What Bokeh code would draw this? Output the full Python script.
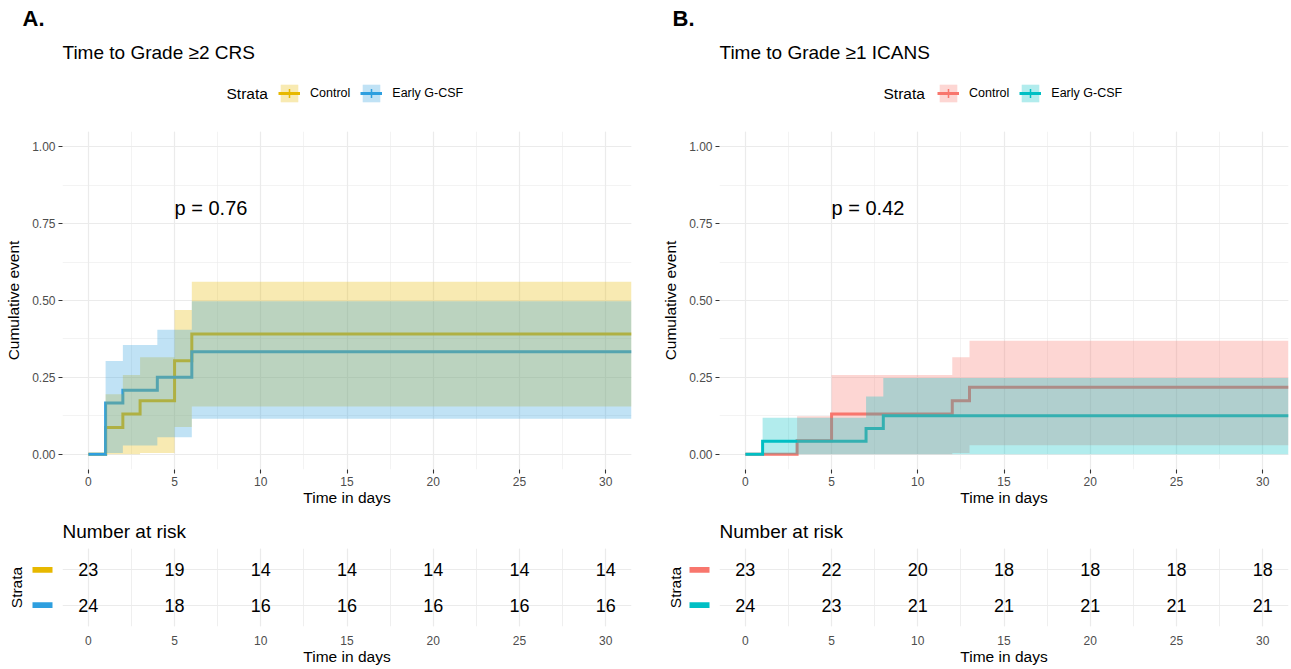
from bokeh.plotting import figure
from bokeh.models import (ColumnDataSource, Label, Legend, LegendItem,
                          SingleIntervalTicker, FixedTicker, NumeralTickFormatter)
from bokeh.layouts import row, column
from bokeh.core.properties import value
from bokeh.embed import file_html
from bokeh.resources import INLINE

FONT = "Liberation Sans"

# ---------------- data ----------------
strata = ["Control", "Early G-CSF"]
strata_rows = [2, 1]

# Panel A: Time to Grade >=2 CRS (cumulative event, 95% CI)
a_title = "Time to Grade ≥2 CRS"
a_pval = "p = 0.76"
a_colors = ["#E7B800", "#2E9FDF"]
a_ctrl_time = [0, 1, 2, 3, 5, 6, 31.5]
a_ctrl_est = [0, 0.0870, 0.1304, 0.1739, 0.3043, 0.3913, 0.3913]
a_ctrl_lower = [0, 0.0, 0.0, 0.0035, 0.0884, 0.1553, 0.1553]
a_ctrl_upper = [0, 0.1951, 0.2577, 0.3152, 0.4691, 0.5614, 0.5614]
a_early_time = [0, 1, 2, 4, 6, 31.5]
a_early_est = [0, 0.1667, 0.2083, 0.2500, 0.3333, 0.3333]
a_early_lower = [0, 0.0034, 0.0280, 0.0551, 0.1153, 0.1153]
a_early_upper = [0, 0.3032, 0.3552, 0.4047, 0.4976, 0.4976]

# Panel B: Time to Grade >=1 ICANS
b_title = "Time to Grade ≥1 ICANS"
b_pval = "p = 0.42"
b_colors = ["#F8766D", "#00BFC4"]
b_ctrl_time = [0, 3, 5, 12, 13, 31.5]
b_ctrl_est = [0, 0.0435, 0.1304, 0.1739, 0.2174, 0.2174]
b_ctrl_lower = [0, 0.0, 0.0, 0.0035, 0.0293, 0.0293]
b_ctrl_upper = [0, 0.1233, 0.2577, 0.3152, 0.3690, 0.3690]
b_early_time = [0, 1, 7, 8, 31.5]
b_early_est = [0, 0.0417, 0.0833, 0.1250, 0.1250]
b_early_lower = [0, 0.0, 0.0, 0.0, 0.0]
b_early_upper = [0, 0.1184, 0.1875, 0.2478, 0.2478]

# Number at risk
risk_times = [0, 5, 10, 15, 20, 25, 30]
a_risk_ctrl = [23, 19, 14, 14, 14, 14, 14]
a_risk_early = [24, 18, 16, 16, 16, 16, 16]
b_risk_ctrl = [23, 22, 20, 18, 18, 18, 18]
b_risk_early = [24, 23, 21, 21, 21, 21, 21]

pval_x, pval_y = 5, 0.80

X_RANGE = (-1.5, 31.5)
Y_RANGE = (-0.05, 1.05)
RISK_Y = (0.4, 2.6)

HEADER_H = 131
MAIN_H = 379      # frame 338 + bottom axis 41
SUB_H = 38
RISK_H = 119      # frame 81 + bottom axis 38


def text_label(p, x, y, text, size, bold=False, units="screen", align="left"):
    p.add_layout(Label(x=x, y=y, x_units=units, y_units=units, text=text,
                       text_font=FONT, text_font_size=size,
                       text_font_style="bold" if bold else "normal",
                       text_color="#000000", text_baseline="middle",
                       text_align=align))


def blank(width, height):
    # ranges lie away from the data so that legend proxies stay off-frame;
    # texts are placed in screen units
    f = figure(width=width, height=height,
               x_range=(-width - 100, -100), y_range=(-height - 100, -100),
               x_axis_location=None, y_axis_location=None, output_backend="svg",
               toolbar_location=None, title=None, min_border=0,
               min_border_left=0, min_border_right=0, min_border_top=0,
               min_border_bottom=0, frame_align=False)
    f.outline_line_color = None
    f.grid.visible = False
    return f


def make_header(width, letter, letter_x, title, title_x, colors, curves,
                strata_x, legend_x):
    h = blank(width, HEADER_H)
    text_label(h, letter_x, HEADER_H - 18, letter, "22px", bold=True)
    text_label(h, title_x, HEADER_H - 52, title, "19px")
    text_label(h, strata_x, HEADER_H - 93, "Strata", "15.5px")
    items = []
    for s, c, (t, est, lo, up) in zip(strata, colors, curves):
        band = h.varea_step(x=t, y1=lo, y2=up, step_mode="after",
                            fill_color=c, fill_alpha=0.3)
        line = h.step(t, est, mode="after", line_color=c, line_width=3)
        cross = h.scatter(x=t[-1:], y=est[-1:], marker="cross", size=9,
                          line_color=c, line_width=1.5)
        items.append(LegendItem(label=s, renderers=[band, line, cross]))
    leg = Legend(items=items, orientation="horizontal",
                 location=(legend_x, HEADER_H - 104),
                 glyph_width=22, glyph_height=22, label_height=22, label_width=10,
                 label_standoff=10, spacing=10, padding=0, margin=0,
                 border_line_color=None, background_fill_alpha=0,
                 label_text_font=FONT, label_text_font_size="12.5px",
                 label_text_color="#000000")
    h.add_layout(leg)
    return h


def make_main(width, ml, mr, pval, colors, curves):
    p = figure(width=width, height=MAIN_H, x_range=X_RANGE, y_range=Y_RANGE,
               output_backend="svg", toolbar_location=None, title=None,
               min_border_left=ml, min_border_right=mr,
               min_border_top=0, min_border_bottom=41)
    p.outline_line_color = None
    xt = SingleIntervalTicker(interval=5, num_minor_ticks=2)
    yt = SingleIntervalTicker(interval=0.25, num_minor_ticks=2)
    p.xaxis.ticker = xt
    p.xgrid.ticker = xt
    p.yaxis.ticker = yt
    p.ygrid.ticker = yt
    p.yaxis.formatter = NumeralTickFormatter(format="0.00")
    for ax in (p.xaxis[0], p.yaxis[0]):
        ax.axis_line_color = None
        ax.major_tick_line_color = "#333333"
        ax.major_tick_line_width = 1.1
        ax.major_tick_out = 4
        ax.major_tick_in = 0
        ax.minor_tick_line_color = None
        ax.major_label_text_font = FONT
        ax.major_label_text_font_size = "12px"
        ax.major_label_text_color = "#4D4D4D"
        ax.major_label_standoff = 3
        ax.axis_label_text_font = FONT
        ax.axis_label_text_font_size = "15.5px"
        ax.axis_label_text_font_style = "normal"
        ax.axis_label_text_color = "#000000"
    p.xaxis.axis_label = "Time in days"
    p.xaxis.axis_label_standoff = 0
    p.yaxis.axis_label = "Cumulative event"
    p.yaxis.axis_label_standoff = 7
    for g in (p.xgrid[0], p.ygrid[0]):
        g.grid_line_color = "#EBEBEB"
        g.grid_line_width = 1.2
        g.minor_grid_line_color = "#EBEBEB"
        g.minor_grid_line_width = 0.6

    for (t, est, lo, up), c in zip(curves, colors):
        p.step(t, est, mode="after", line_color=c, line_width=3, line_join="miter")
    for (t, est, lo, up), c in zip(curves, colors):
        p.varea_step(x=t, y1=lo, y2=up, step_mode="after", fill_color=c,
                     fill_alpha=0.3)
    text_label(p, pval_x, pval_y, pval, "20px", units="data")
    return p


def make_sub(width, x):
    s = blank(width, SUB_H)
    text_label(s, x, SUB_H - 21, "Number at risk", "19px")
    return s


def make_risk(width, mr, ctrl, early):
    r = figure(width=width, height=RISK_H, x_range=X_RANGE, y_range=RISK_Y,
               y_axis_location=None, output_backend="svg", toolbar_location=None,
               title=None, min_border_left=0, min_border_right=mr,
               min_border_top=0, min_border_bottom=38)
    r.outline_line_color = None
    xt = SingleIntervalTicker(interval=5, num_minor_ticks=2)
    r.xaxis.ticker = xt
    r.xgrid.ticker = xt
    r.ygrid.ticker = FixedTicker(ticks=strata_rows)
    ax = r.xaxis[0]
    ax.axis_line_color = None
    ax.major_tick_line_color = None
    ax.minor_tick_line_color = None
    ax.major_tick_out = 0
    ax.major_tick_in = 0
    ax.major_label_text_font = FONT
    ax.major_label_text_font_size = "12px"
    ax.major_label_text_color = "#4D4D4D"
    ax.major_label_standoff = 5
    ax.axis_label = "Time in days"
    ax.axis_label_standoff = 0
    ax.axis_label_text_font = FONT
    ax.axis_label_text_font_size = "15.5px"
    ax.axis_label_text_font_style = "normal"
    ax.axis_label_text_color = "#000000"
    for g in (r.xgrid[0], r.ygrid[0]):
        g.grid_line_color = "#EBEBEB"
        g.grid_line_width = 1.2
        g.minor_grid_line_color = "#EBEBEB"
        g.minor_grid_line_width = 0.8

    xs, ys, ts = [], [], []
    for vals, yrow in zip([ctrl, early], strata_rows):
        for t, v in zip(risk_times, vals):
            xs.append(t)
            ys.append(yrow)
            ts.append(str(v))
    src = ColumnDataSource(dict(x=xs, y=ys, t=ts))
    r.text(x="x", y="y", text="t", source=src, text_align="center",
           text_baseline="middle", text_font=value(FONT), text_font_size="18px",
           text_color="#000000")
    return r


def make_strip(width, ml, colors):
    s = figure(width=width, height=RISK_H, x_range=(0, 1), y_range=RISK_Y,
               x_axis_location=None, output_backend="svg", toolbar_location=None,
               title=None, min_border_left=ml, min_border_right=0,
               min_border_top=0, min_border_bottom=38)
    s.outline_line_color = None
    s.grid.visible = False
    ya = s.yaxis[0]
    ya.ticker = FixedTicker(ticks=[])
    ya.axis_line_color = None
    ya.major_tick_line_color = None
    ya.minor_tick_line_color = None
    ya.major_tick_out = 0
    ya.major_tick_in = 0
    ya.major_label_standoff = 0
    ya.axis_label = "Strata"
    ya.axis_label_standoff = 0
    ya.axis_label_text_font = FONT
    ya.axis_label_text_font_size = "15.5px"
    ya.axis_label_text_font_style = "normal"
    ya.axis_label_text_color = "#000000"
    fw = width - ml
    s.rect(x=[1 - 20 / fw] * 2, y=strata_rows, width=20 / fw,
           height=6 * (RISK_Y[1] - RISK_Y[0]) / 81,
           fill_color=colors, line_color=None)
    return s


curves_a = [(a_ctrl_time, a_ctrl_est, a_ctrl_lower, a_ctrl_upper),
            (a_early_time, a_early_est, a_early_lower, a_early_upper)]
curves_b = [(b_ctrl_time, b_ctrl_est, b_ctrl_lower, b_ctrl_upper),
            (b_early_time, b_early_est, b_early_lower, b_early_upper)]

WA, WB = 650, 640

headA = make_header(WA, "A.", 22, a_title, 62, a_colors, curves_a, 226, 278)
mainA = make_main(WA, 62, 19, a_pval, a_colors, curves_a)
subA = make_sub(WA, 62)
stripA = make_strip(62, 24, a_colors)
riskA = make_risk(WA - 62, 19, a_risk_ctrl, a_risk_early)

headB = make_header(WB, "B.", 22, b_title, 69, b_colors, curves_b, 233, 287)
mainB = make_main(WB, 69, 2, b_pval, b_colors, curves_b)
subB = make_sub(WB, 69)
stripB = make_strip(69, 33, b_colors)
riskB = make_risk(WB - 69, 2, b_risk_ctrl, b_risk_early)

layout = row(column(headA, mainA, subA, row(stripA, riskA)),
             column(headB, mainB, subB, row(stripB, riskB)))

open("out.html", "w").write(file_html(layout, INLINE))
